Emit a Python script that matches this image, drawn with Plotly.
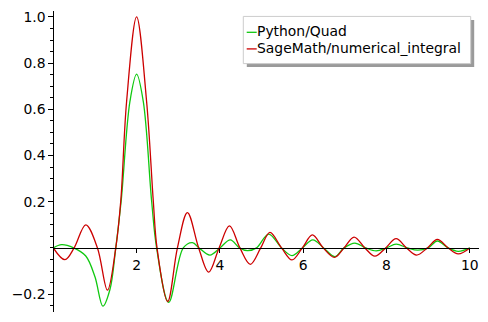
import plotly.graph_objects as go

# ---- data ----
quad_x = [0, 0.2, 0.49, 0.78, 1.0, 1.19, 1.36, 1.50, 1.63, 1.84, 2.0, 2.16, 2.36, 2.48,
          2.77, 3.12, 3.34, 3.50, 3.76, 4.0, 4.25, 4.47, 4.66, 4.88, 5.17, 5.48, 5.73,
          5.98, 6.23, 6.49, 6.76, 6.98, 7.24, 7.50, 7.75, 8.0, 8.23, 8.50, 8.75, 9.0,
          9.22, 9.48, 9.72, 10.0]
quad_y = [0, 0.014, 0, -0.035, -0.125, -0.252, -0.18, 0, 0.204, 0.634, 0.752, 0.634, 0.204, 0,
          -0.236, 0, 0.023, 0, -0.031, 0, 0.035, 0, -0.012, 0, 0.060, 0, -0.033,
          0, 0.035, 0, -0.038, 0, 0.021, 0, -0.013, 0, 0.016, 0, -0.010, 0,
          0.030, 0, -0.015, 0]

sage_x = [0, 0.28, 0.50, 0.78, 1.06, 1.30, 1.50, 1.62, 1.76, 2.0, 2.24, 2.40, 2.49, 2.745,
          2.98, 3.22, 3.49, 3.73, 3.98, 4.23, 4.48, 4.73, 4.98, 5.20, 5.48, 5.73, 5.98,
          6.22, 6.48, 6.75, 6.98, 7.22, 7.48, 7.72, 7.98, 8.23, 8.48, 8.72, 8.98, 9.22,
          9.48, 9.72, 10.0]
sage_y = [0, -0.051, 0, 0.10, 0, -0.183, 0, 0.204, 0.634, 1.0, 0.634, 0.204, 0, -0.232,
          0, 0.153, 0, -0.105, 0, 0.095, 0, -0.071, 0, 0.067, 0, -0.052, 0,
          0.056, 0, -0.041, 0, 0.047, 0, -0.036, 0, 0.040, 0, -0.031, 0, 0.037,
          0, -0.026, 0]

series_names = ["Python/Quad", "SageMath/numerical_integral"]
series_colors = ["#10c810", "#cc0000"]

x_tickvals = [2, 4, 6, 8, 10]
x_ticktext = ["2", "4", "6", "8", "10"]
y_tickvals = [-0.2, 0.2, 0.4, 0.6, 0.8, 1.0]
y_ticktext = ["\u22120.2", "0.2", "0.4", "0.6", "0.8", "1.0"]

# ---- layout helpers ----
W, H = 488, 322
FONT = "DejaVu Sans"
FS = 13.9


def px(x):
    return x / W


def py(y):
    return 1 - y / H


fig = go.Figure()
for xs, ys, name, col in [(quad_x, quad_y, series_names[0], series_colors[0]),
                          (sage_x, sage_y, series_names[1], series_colors[1])]:
    fig.add_trace(go.Scatter(x=xs, y=ys, mode="lines", name=name,
                             line=dict(color=col, width=1.3, shape="spline", smoothing=1.0),
                             showlegend=False, hoverinfo="skip"))

x0_px, x1_px = 53.3, 479.0
y_top_px, y_bot_px = 9.3, 312.3
zero_py = 247.5

fig.update_layout(
    width=W, height=H,
    margin=dict(l=0, r=0, t=0, b=0),
    paper_bgcolor="white", plot_bgcolor="white",
    font=dict(family=FONT, size=FS, color="black"),
    xaxis=dict(domain=[px(x0_px), px(x1_px)], range=[0, 10.22],
               anchor="free", position=py(zero_py), side="bottom",
               showline=True, linecolor="black", linewidth=1.1,
               ticks="outside", ticklen=4, tickwidth=1, tickcolor="black",
               tickmode="array", tickvals=x_tickvals, ticktext=x_ticktext,
               showgrid=False, zeroline=False, fixedrange=True),
    yaxis=dict(domain=[py(y_bot_px), py(y_top_px)], range=[-0.279, 1.0245],
               anchor="free", position=px(x0_px), side="left",
               showline=True, linecolor="black", linewidth=1.1,
               ticks="outside", ticklen=5, tickwidth=1, tickcolor="black",
               tickmode="array", tickvals=y_tickvals, ticktext=y_ticktext,
               minor=dict(ticks="outside", ticklen=3, tickwidth=1, tickcolor="black",
                          tick0=0, dtick=0.05, showgrid=False),
               showgrid=False, zeroline=False, fixedrange=True),
)

# ---- manual legend (box with shadow, short line samples) ----
bx0, by0, bx1, by1 = 243.3, 14.5, 470.7, 62.0
shapes = [
    dict(type="rect", xref="paper", yref="paper", x0=px(bx0 + 3.5), x1=px(bx1 + 3.5),
         y0=py(by0 + 3.5), y1=py(by1 + 3.5), fillcolor="#9a9a9a", line=dict(width=0),
         layer="above"),
    dict(type="rect", xref="paper", yref="paper", x0=px(bx0), x1=px(bx1),
         y0=py(by0), y1=py(by1), fillcolor="white", line=dict(color="#cccccc", width=1),
         layer="above"),
]
text_rows = [29.6, 46.3]
line_rows = [r + 0.9 for r in text_rows]
annotations = []
for i, (name, col) in enumerate(zip(series_names, series_colors)):
    shapes.append(dict(type="line", xref="paper", yref="paper",
                       x0=px(246.7), x1=px(256.7), y0=py(line_rows[i]), y1=py(line_rows[i]),
                       line=dict(color=col, width=1.3), layer="above"))
    annotations.append(dict(xref="paper", yref="paper", x=px(256.3), y=py(text_rows[i]),
                            text=name, showarrow=False, xanchor="left", yanchor="middle",
                            borderpad=0,
                            font=dict(family=FONT, size=FS, color="black")))
fig.update_layout(shapes=shapes, annotations=annotations)

fig.write_html("out.html")
